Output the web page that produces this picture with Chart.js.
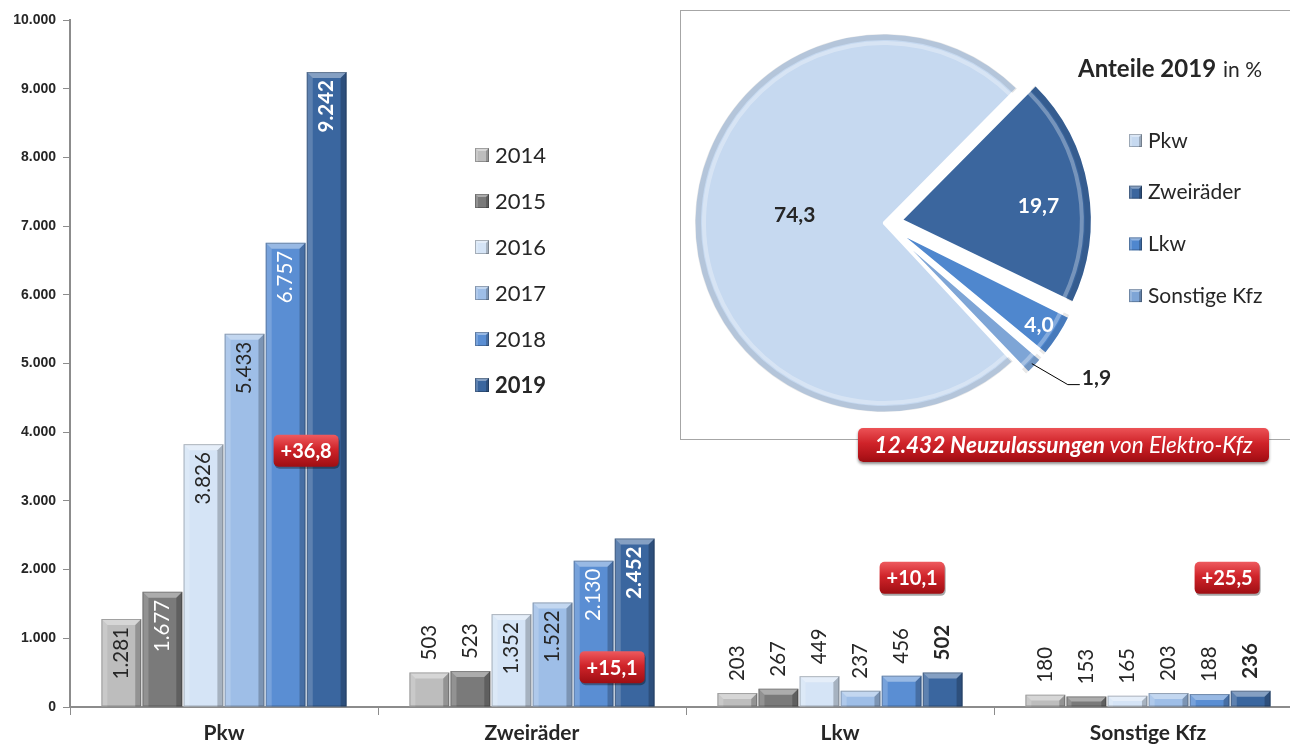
<!DOCTYPE html>
<html lang="de">
<head>
<meta charset="UTF-8">
<title>Neuzulassungen Elektro-Kfz</title>
<script src="https://cdn.jsdelivr.net/npm/chart.js"></script>
<style>
    html, body { margin: 0; padding: 0; background: #fff; overflow: hidden; }
    #wrap { position: relative; width: 1290px; height: 747px; overflow: hidden; }
    #barCanvas { position: absolute; left: 0; top: 0; }
    #pieBox {
        position: absolute; left: 680px; top: 10px; width: 620px; height: 430px;
        box-sizing: border-box; border: 1px solid #a6a6a6; background: #fff;
    }
    #pieCanvas { position: absolute; left: 0; top: 0; }
    #total {
        position: absolute; left: 858px; top: 428px; width: 411px; height: 34px;
        border-radius: 5px;
        background: linear-gradient(#ec5256, #cf2329 45%, #b3141a 80%, #9c0d12);
        box-shadow: 0 2px 3px rgba(0,0,0,0.45);
        color: #fff; font: italic 22.5px Lato, sans-serif; line-height: 34px; text-align: center;
        white-space: nowrap;
    }
    #total b { font-weight: bold; }
</style>
</head>
<body>
<div id="wrap">
    <canvas id="barCanvas" width="1302" height="747"></canvas>
    <div id="pieBox"><canvas id="pieCanvas" width="618" height="428"></canvas></div>
    <div id="total"><b>12.432 Neuzulassungen</b> von Elektro-Kfz</div>
</div>

<script>
// --- data ---
const categories = ['Pkw', 'Zweiräder', 'Lkw', 'Sonstige Kfz'];
const years = ['2014', '2015', '2016', '2017', '2018', '2019'];
const values2014 = [1281, 503, 203, 180];
const values2015 = [1677, 523, 267, 153];
const values2016 = [3826, 1352, 449, 165];
const values2017 = [5433, 1522, 237, 203];
const values2018 = [6757, 2130, 456, 188];
const values2019 = [9242, 2452, 502, 236];
const growth2019 = [36.8, 15.1, 10.1, 25.5];      // Veränderung 2019 zu 2018 in %
const shares2019 = [74.3, 19.7, 4.0, 1.9];        // Anteile 2019 in %
const yTicks = [0, 1000, 2000, 3000, 4000, 5000, 6000, 7000, 8000, 9000, 10000];

// --- styles ---
const barColors = ['#bdbdbd', '#7a7a7a', '#d5e4f6', '#9ebee7', '#5a8ed3', '#3a669f'];
const insideLabelColors = ['#262626', '#ffffff', '#262626', '#262626', '#ffffff', '#ffffff'];
const pieColors = ['#c6d9f0', '#3b669e', '#4f87ce', '#7ea5d6'];
const dark = '#262626';

const fmt = v => String(v).replace(/\B(?=(\d{3})+(?!\d))/g, '.');
const fmtDec = v => v.toFixed(1).replace('.', ',');

function bevel(ctx, x0, y0, x1, y1, b) {
    ctx.save();
    ctx.fillStyle = 'rgba(255,255,255,0.38)';
    ctx.beginPath();
    ctx.moveTo(x0, y0); ctx.lineTo(x1, y0); ctx.lineTo(x1 - b, y0 + b); ctx.lineTo(x0 + b, y0 + b);
    ctx.closePath(); ctx.fill();
    ctx.fillStyle = 'rgba(255,255,255,0.18)';
    ctx.beginPath();
    ctx.moveTo(x0, y0); ctx.lineTo(x0 + b, y0 + b); ctx.lineTo(x0 + b, y1); ctx.lineTo(x0, y1);
    ctx.closePath(); ctx.fill();
    ctx.fillStyle = 'rgba(0,0,0,0.22)';
    ctx.beginPath();
    ctx.moveTo(x1, y0); ctx.lineTo(x1 - b, y0 + b); ctx.lineTo(x1 - b, y1); ctx.lineTo(x1, y1);
    ctx.closePath(); ctx.fill();
    ctx.strokeStyle = 'rgba(0,0,0,0.25)';
    ctx.lineWidth = 1;
    ctx.strokeRect(x0 + 0.5, y0 + 0.5, x1 - x0 - 1, y1 - y0 - 1);
    ctx.restore();
}

function redBadge(ctx, cx, cy, text, font) {
    ctx.save();
    ctx.font = font;
    const w = ctx.measureText(text).width + 14, h = 32;
    const x = cx - w / 2, y = cy - h / 2;
    ctx.fillStyle = 'rgba(0,0,0,0.35)';
    ctx.beginPath(); ctx.roundRect(x + 1, y + 2, w, h, 5); ctx.fill();
    const g = ctx.createLinearGradient(0, y, 0, y + h);
    g.addColorStop(0, '#ee5a5e'); g.addColorStop(0.45, '#d0242a'); g.addColorStop(1, '#9e0e13');
    ctx.fillStyle = g;
    ctx.beginPath(); ctx.roundRect(x, y, w, h, 5); ctx.fill();
    ctx.fillStyle = '#fff';
    ctx.textAlign = 'center'; ctx.textBaseline = 'middle';
    ctx.fillText(text, cx, cy + 1);
    ctx.restore();
}

// badge placement: height on the y scale, small horizontal nudge
const badgeAt = [3730, 580, 1880, 1880];
const badgeNudge = [0, -2, -10, -3];

const barDecor = {
    id: 'barDecor',
    afterDatasetsDraw(chart) {
        const ctx = chart.ctx;
        const yScale = chart.scales.y;
        chart.data.datasets.forEach((ds, i) => {
            const meta = chart.getDatasetMeta(i);
            meta.data.forEach((bar, j) => {
                const p = bar.getProps(['x', 'y', 'base', 'width'], true);
                const x0 = p.x - p.width / 2, x1 = p.x + p.width / 2;
                const h = p.base - p.y;
                bevel(ctx, x0, p.y, x1, p.base, Math.min(6, h / 2, p.width / 4));
                // value label, rotated
                const txt = fmt(ds.data[j]);
                ctx.save();
                ctx.font = (i === 5 ? 'bold ' : '') + '20.5px Lato';
                const tw = ctx.measureText(txt).width;
                ctx.textBaseline = 'middle';
                if (h > tw + 20) {
                    ctx.translate(p.x, p.y + 8);
                    ctx.rotate(-Math.PI / 2);
                    ctx.textAlign = 'right';
                    ctx.fillStyle = insideLabelColors[i];
                } else {
                    ctx.translate(p.x, p.y - 12);
                    ctx.rotate(-Math.PI / 2);
                    ctx.textAlign = 'left';
                    ctx.fillStyle = dark;
                }
                ctx.fillText(txt, 0, 0);
                ctx.restore();
            });
        });
        // growth badges, between the 2018 and 2019 bars
        const m18 = chart.getDatasetMeta(4), m19 = chart.getDatasetMeta(5);
        growth2019.forEach((g, j) => {
            const cx = (m18.data[j].x + m19.data[j].x) / 2 + badgeNudge[j];
            redBadge(ctx, cx, yScale.getPixelForValue(badgeAt[j]), '+' + fmtDec(g), 'bold 20px Lato');
        });
        // legend
        years.forEach((y, i) => {
            const cy = 155 + i * 46;
            ctx.fillStyle = barColors[i];
            ctx.fillRect(475, cy - 7, 14, 14);
            bevel(ctx, 475, cy - 7, 489, cy + 7, 3);
            ctx.font = (i === 5 ? 'bold ' : '') + '22px Lato';
            ctx.fillStyle = dark;
            ctx.textAlign = 'left'; ctx.textBaseline = 'middle';
            ctx.fillText(y, 495, cy + 1);
        });
    }
};

const valueSets = [values2014, values2015, values2016, values2017, values2018, values2019];

new Chart(document.getElementById('barCanvas'), {
    type: 'bar',
    data: {
        labels: categories,
        datasets: years.map((y, i) => ({
            label: y,
            data: valueSets[i],
            backgroundColor: barColors[i],
            borderWidth: 0,
            categoryPercentage: 0.8,
            barPercentage: 0.97
        }))
    },
    options: {
        responsive: false,
        animation: false,
        devicePixelRatio: 1,
        layout: { padding: { top: 20, left: 0, right: 0, bottom: 0 } },
        plugins: { legend: { display: false }, tooltip: { enabled: false } },
        scales: {
            x: {
                grid: { drawOnChartArea: false, offset: true, tickLength: 8, color: '#8c8c8c' },
                border: { color: '#8c8c8c', width: 2 },
                ticks: { color: dark, font: { family: 'Lato', size: 21, weight: 'bold' }, padding: 6 },
                afterFit: s => { s.height = 40; }
            },
            y: {
                min: 0, max: 10000,
                afterBuildTicks: s => { s.ticks = yTicks.map(v => ({ value: v })); },
                ticks: {
                    color: dark, padding: 7,
                    font: { family: 'Liberation Sans', size: 14, weight: 'bold' },
                    callback: v => fmt(v)
                },
                grid: { drawOnChartArea: false, tickLength: 7, color: '#8c8c8c' },
                border: { color: '#8c8c8c', width: 2 },
                afterFit: s => { s.width = 70; }
            }
        }
    },
    plugins: [barDecor]
});

// --- pie inset ---
const pieRadius = 190;
const pieShift = [0, 18, 18, 18];                 // explode distance in px
const pieLabelDist = [0.47, 0.73, 0.89, 1];
const pieLabelNudge = [[0, -6], [0, 10], [-2, 0], [12, 6]];
const pieLabelColors = [dark, '#ffffff', '#ffffff', dark];

const pieDecor = {
    id: 'pieDecor',
    beforeDatasetsDraw(chart) {
        // Chart.js grows small exploded arcs; keep every slice at the same radius
        chart.getDatasetMeta(0).data.forEach(arc => {
            const off = (arc.options.offset || 0) / 4;
            const fix = 1 - Math.sin(Math.min(Math.PI, arc.circumference || 0));
            arc.outerRadius = pieRadius - off * fix;
        });
    },
    afterDatasetsDraw(chart) {
        const ctx = chart.ctx;
        const meta = chart.getDatasetMeta(0);
        meta.data.forEach((arc, i) => {
            const p = arc.getProps(['x', 'y', 'startAngle', 'endAngle'], true);
            const mid = (p.startAngle + p.endAngle) / 2;
            const ox = p.x + Math.cos(mid) * pieShift[i], oy = p.y + Math.sin(mid) * pieShift[i];
            const R = pieRadius;
            // rim shading
            ctx.save();
            ctx.beginPath();
            ctx.moveTo(ox, oy);
            ctx.arc(ox, oy, R - 1, p.startAngle, p.endAngle);
            ctx.closePath();
            ctx.clip();
            ctx.lineWidth = 10;
            ctx.strokeStyle = 'rgba(0,0,0,0.09)';
            ctx.beginPath(); ctx.arc(ox, oy, R - 2, p.startAngle, p.endAngle); ctx.stroke();
            ctx.lineWidth = 4;
            ctx.strokeStyle = 'rgba(255,255,255,0.30)';
            ctx.beginPath(); ctx.arc(ox, oy, R - 10, p.startAngle, p.endAngle); ctx.stroke();
            ctx.restore();

            const txt = fmtDec(chart.data.datasets[0].data[i]);
            const [nx, ny] = pieLabelNudge[i];
            ctx.save();
            ctx.font = 'bold 21px Lato';
            ctx.textBaseline = 'middle';
            if (i < 3) {
                const d = pieLabelDist[i] * R;
                ctx.textAlign = 'center';
                ctx.fillStyle = pieLabelColors[i];
                ctx.fillText(txt, ox + Math.cos(mid) * d + nx, oy + Math.sin(mid) * d + ny);
            } else {
                const sx = ox + Math.cos(mid) * (R - 4);
                const sy = oy + Math.sin(mid) * (R - 4);
                ctx.strokeStyle = '#000'; ctx.lineWidth = 1;
                ctx.beginPath();
                ctx.moveTo(sx, sy); ctx.lineTo(sx + 36, sy + 21); ctx.lineTo(sx + 48, sy + 21);
                ctx.stroke();
                ctx.textAlign = 'left';
                ctx.fillStyle = pieLabelColors[i];
                ctx.fillText(txt, sx + 38 + nx, sy + 9 + ny);
            }
            ctx.restore();
        });
        // title
        ctx.save();
        ctx.fillStyle = dark;
        ctx.textBaseline = 'alphabetic';
        ctx.textAlign = 'left';
        ctx.font = 'bold 24px Lato';
        ctx.fillText('Anteile 2019', 397, 66);
        const tw = ctx.measureText('Anteile 2019').width + 7;
        ctx.font = '21px Lato';
        ctx.fillText('in %', 397 + tw, 66);
        // legend
        chart.data.labels.forEach((lab, i) => {
            const cy = 129 + i * 51.7;
            ctx.fillStyle = pieColors[i];
            ctx.fillRect(448, cy - 6, 13, 13);
            bevel(ctx, 448, cy - 6, 461, cy + 7, 3);
            ctx.fillStyle = dark;
            ctx.font = '21px Lato';
            ctx.textBaseline = 'middle';
            ctx.fillText(lab, 467, cy + 1);
        });
        ctx.restore();
    }
};

new Chart(document.getElementById('pieCanvas'), {
    type: 'pie',
    data: {
        labels: categories,
        datasets: [{
            data: shares2019,
            backgroundColor: pieColors,
            borderColor: '#ffffff',
            borderWidth: [3, 2, 2, 2],
            offset: pieShift.map(s => s * 4)    // arc element moves by offset / 4
        }]
    },
    options: {
        responsive: false,
        animation: false,
        devicePixelRatio: 1,
        rotation: 137,
        radius: pieRadius,
        layout: { padding: { left: 0, top: 0, right: 212, bottom: 4 } },
        plugins: { legend: { display: false }, tooltip: { enabled: false } }
    },
    plugins: [pieDecor]
});
</script>
</body>
</html>
